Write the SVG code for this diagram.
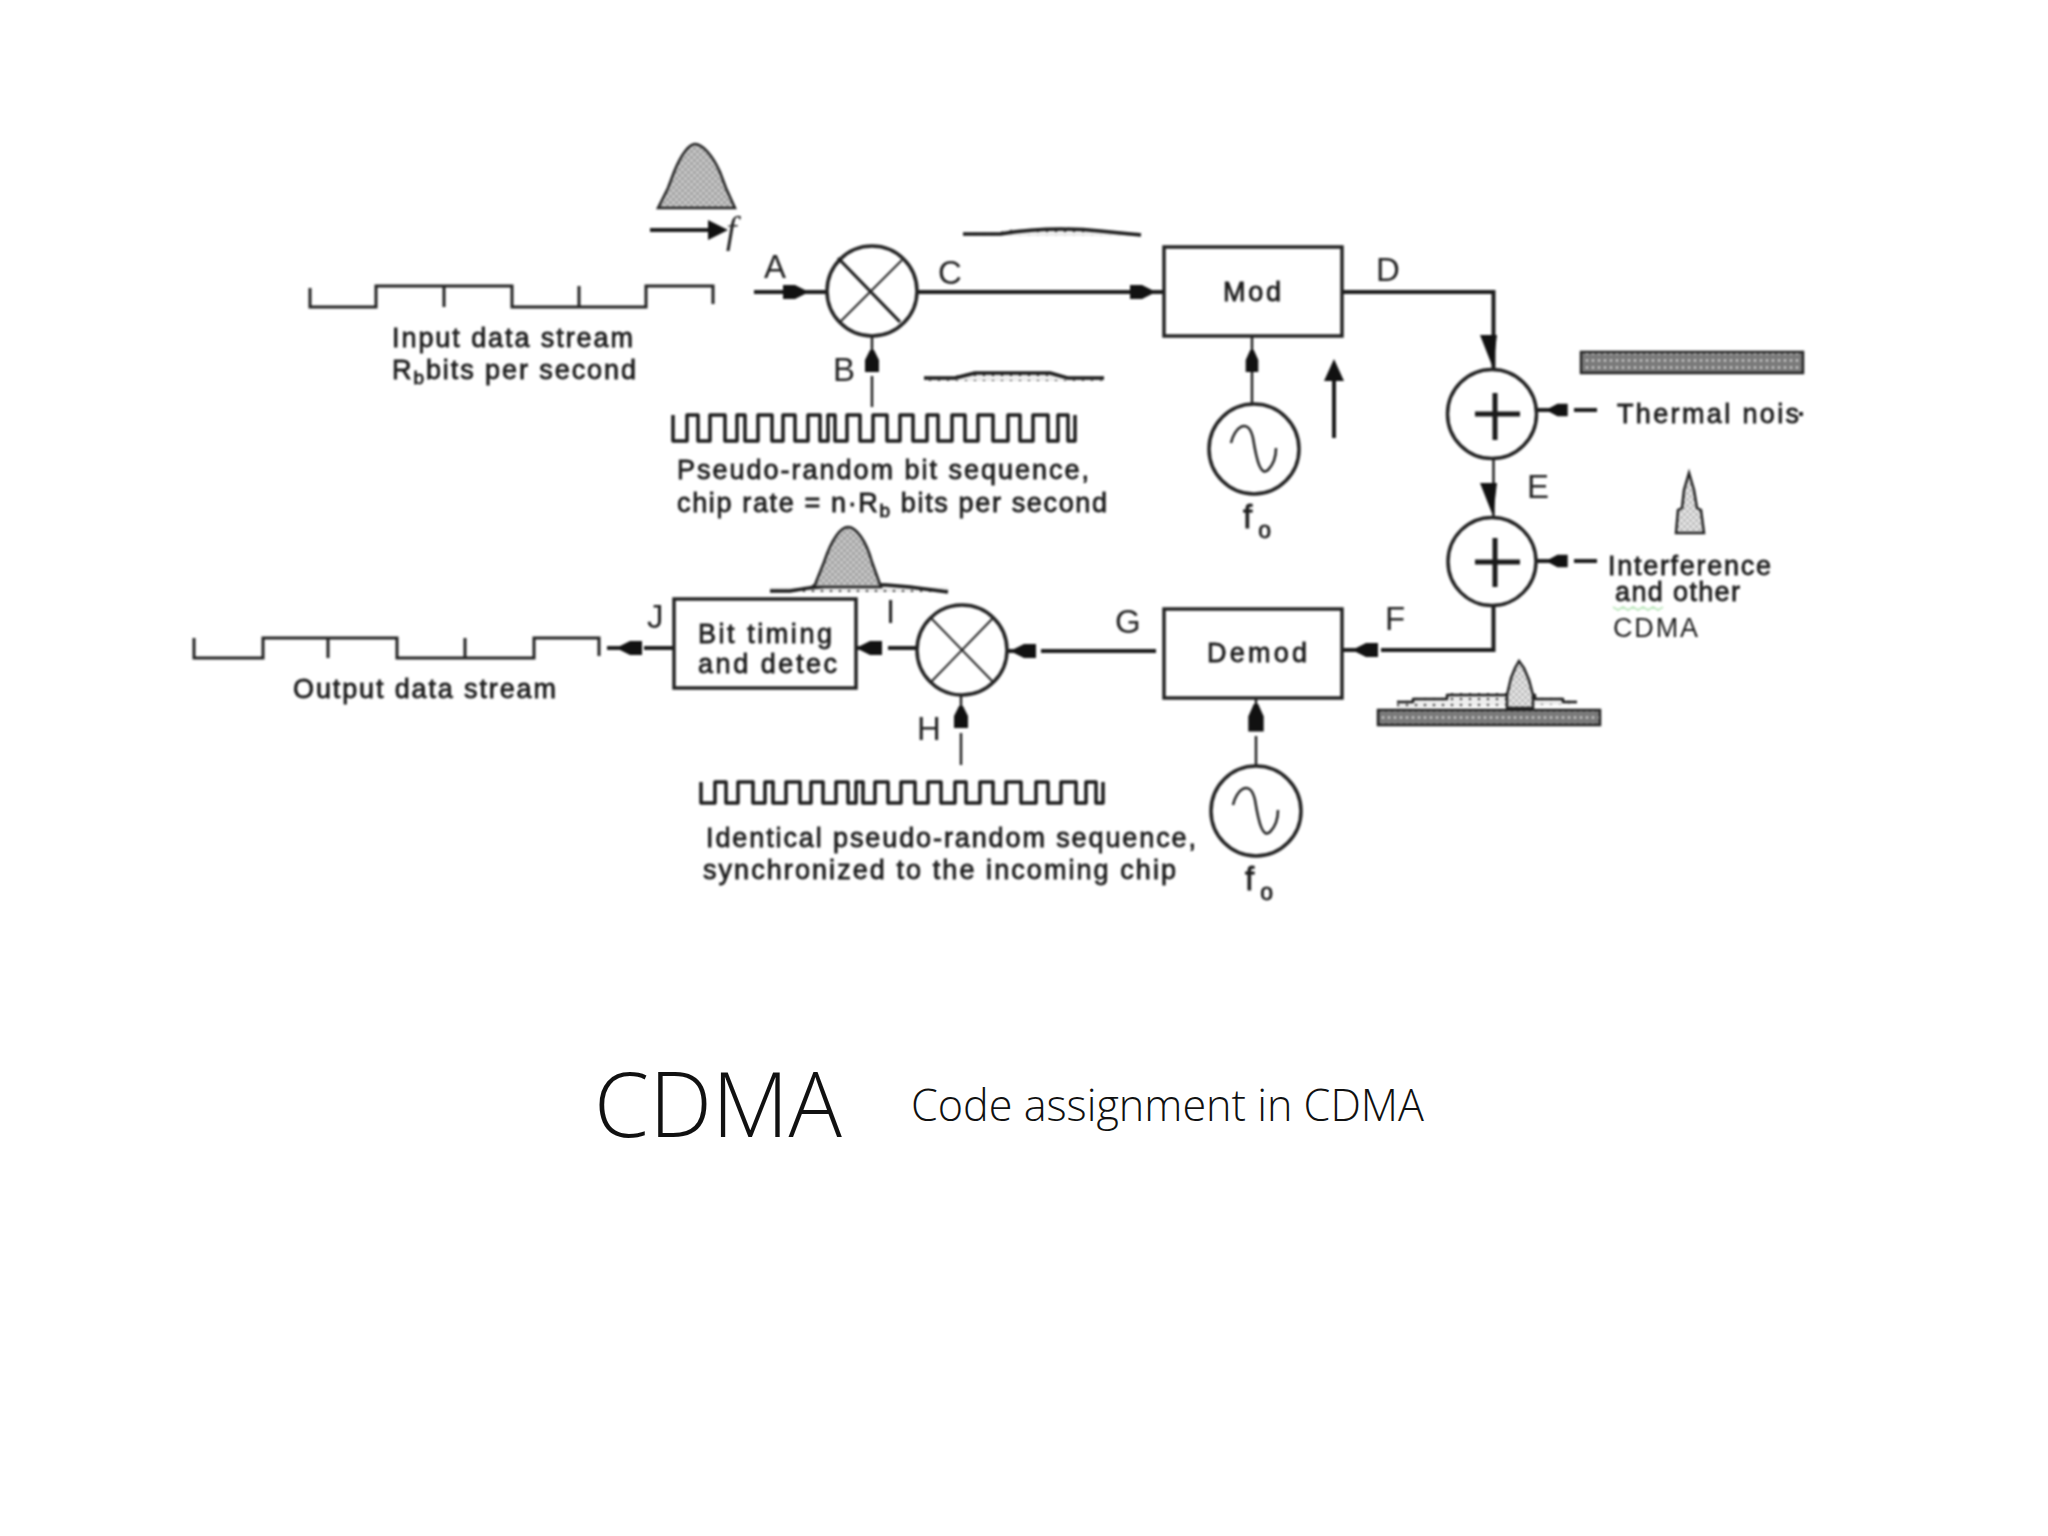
<svg xmlns="http://www.w3.org/2000/svg" width="2048" height="1536" viewBox="0 0 2048 1536">
<style>
.w{fill:none;stroke:#222;stroke-width:3;stroke-linejoin:miter}
.m{fill:none;stroke:#1c1c1c;stroke-width:4;stroke-linejoin:miter}
.q{fill:none;stroke:#1c1c1c;stroke-width:3.5;stroke-linejoin:round}
.t{fill:none;stroke:#222;stroke-width:2.5}
.k{fill:none;stroke:#1a1a1a;stroke-width:4}
.c{fill:#fff;stroke:#222;stroke-width:3.5}
.b{fill:#fff;stroke:#222;stroke-width:3.5}
.h{fill:#111;stroke:none}
.d{fill:url(#dots);stroke:#222;stroke-width:2.5}
.e{fill:url(#dots3);stroke:#222;stroke-width:2.5}
.n{fill:url(#dots2);stroke:none}
.bar{fill:url(#bars);stroke:#222;stroke-width:2.5}
.x{font-family:"Liberation Sans",Arial,sans-serif;font-size:27px;fill:#1c1c1c;stroke:#1c1c1c;stroke-width:.8}
.l{font-family:"Liberation Sans",Arial,sans-serif;font-size:33px;fill:#222}
.ti{font-family:"Open Sans","Noto Sans",sans-serif;font-weight:300;fill:#111}
</style>
<defs>
<pattern id="dots" width="6" height="6" patternUnits="userSpaceOnUse"><rect width="6" height="6" fill="#c4c4c4"/><circle cx="1.500" cy="1.500" r="1.100" fill="#777"/><circle cx="4.500" cy="4.500" r="1.100" fill="#777"/></pattern>
<pattern id="dots3" width="6" height="6" patternUnits="userSpaceOnUse"><rect width="6" height="6" fill="#e2e2e2"/><circle cx="1.500" cy="1.500" r="1" fill="#888"/><circle cx="4.500" cy="4.500" r="1" fill="#888"/></pattern>
<pattern id="dots2" width="9" height="6" patternUnits="userSpaceOnUse"><rect width="9" height="6" fill="#eee"/><circle cx="3" cy="3" r="1.300" fill="#444"/></pattern>
<pattern id="bars" width="6" height="7" patternUnits="userSpaceOnUse"><rect width="6" height="7" fill="#7a7a7a"/><circle cx="3" cy="3.500" r="1.300" fill="#d5d5d5"/></pattern>
<filter id="soft" x="-5%" y="-5%" width="110%" height="110%" color-interpolation-filters="sRGB"><feGaussianBlur stdDeviation="0.9"/></filter>
<path id="ah" d="M-22,-7 L-10,-7 L0,-2 L0,2 L-10,7 L-22,7Z"/>
<path id="sine" d="M-23,-6 C-20,-21 -6,-33 -1,-11 C3,14 7,27 14,21 C20,15 22,7 22,-1"/>
</defs>
<rect width="2048" height="1536" fill="#fff"/>
<g filter="url(#soft)">
<g id="connectors">
<path class="m" d="M754 292H826M918 292H1164"/>
<use href="#ah" class="h" transform="translate(805,292)"/>
<use href="#ah" class="h" transform="translate(1152,292)"/>
<path class="t" d="M872 336V352M872 376V407"/>
<use href="#ah" class="h" transform="translate(872,350) rotate(-90)"/>
<path class="t" d="M1252 336V404"/>
<use href="#ah" class="h" transform="translate(1252,350) rotate(-90) scale(1,.9)"/>
<path class="m" d="M1342 292H1493.500V370"/>
<polygon class="h" points="1480,335 1497,335 1493,368"/>
<path class="t" d="M1493.500 458V518"/>
<polygon class="h" points="1480,483 1497,483 1493,516"/>
<path class="m" d="M1537 410H1555M1574 410H1597"/>
<use href="#ah" class="h" transform="translate(1549,410) rotate(180) scale(.85,.9)"/>
<path class="m" d="M1537 561H1555M1574 561H1597"/>
<use href="#ah" class="h" transform="translate(1549,561) rotate(180) scale(.85,.9)"/>
<path class="m" d="M1493.500 605V650H1381M1362 650H1342"/>
<use href="#ah" class="h" transform="translate(1356,650) rotate(180)"/>
<path class="t" d="M1256 698V706M1256 736V767"/>
<use href="#ah" class="h" transform="translate(1256,704) rotate(-90) scale(1.250,1.100)"/>
<path class="m" d="M1156 651H1041M1015 651H1007"/>
<use href="#ah" class="h" transform="translate(1014,651) rotate(180)"/>
<path class="m" d="M917 648H888M865 648H856"/>
<use href="#ah" class="h" transform="translate(860,648) rotate(180)"/>
<path class="m" d="M674 648H644M625 648H607"/>
<use href="#ah" class="h" transform="translate(620,648) rotate(180)"/>
<path class="t" d="M961 695V710M961 733V765"/>
<use href="#ah" class="h" transform="translate(961,706) rotate(-90)"/>
</g>
<g id="input-wave">
<path class="w" d="M310 288V307H376V286H512V307H646V286H713V304M444 286V307M579 286V307"/>
<text class="x" x="392" y="347" textLength="241">Input data stream</text>
<text class="x" x="392" y="379" textLength="244">R<tspan dy="5" font-size="19">b</tspan><tspan dy="-5">bits per second</tspan></text>
</g>
<g id="spectrum-a">
<path class="d" d="M658 208L668 188L674 172C682 152 690 144 695 144C702 144 712 154 720 172L726 188L735 208Z"/>
<path class="m" d="M650 230H712"/>
<polygon class="h" points="708,220 728,230 708,240"/>
<text x="726" y="243" font-family="Liberation Serif,serif" font-style="italic" font-size="38" fill="#222">f</text>
</g>
<text class="l" id="label-a" x="764" y="278">A</text>
<g id="mixer-1">
<circle class="c" cx="872" cy="291" r="45"/>
<path class="m" style="stroke-width:3.200" d="M838 258L900 322"/>
<path class="t" style="stroke-width:2" d="M840 322L902 260"/>
</g>
<text class="l" id="label-c" x="938" y="284">C</text>
<g id="spectrum-c">
<path class="n" d="M963 235V232H1000L1010 229H1085L1095 232H1141V236H963Z"/>
<path class="q" d="M963 234H1000Q1050 226 1100 231L1141 235"/>
</g>
<text class="l" id="label-b" x="833" y="381">B</text>
<g id="spectrum-b">
<path class="n" d="M924 380V376H955L975 371H1050L1065 376H1104V381H924Z"/>
<path class="q" d="M924 378H955L975 373H1050L1068 378H1104"/>
</g>
<g id="chip-seq-1">
<path class="q" d="M673 415V441H687V415H698V441H710V415H725V441H737V415H745V441H758V415H772V441H783V415H795V441H808V415H820V441H828V415H835V441H847V415H860V441H873V415H887V441H900V415H913V441H927V415H938V441H952V415H965V441H978V415H993V441H1008V415H1020V441H1033V415H1048V441H1058V415H1068V441H1075V415"/>
<text class="x" x="677" y="479" textLength="412">Pseudo-random bit sequence,</text>
<text class="x" x="677" y="512" textLength="430">chip rate = n·R<tspan dy="5" font-size="19">b</tspan><tspan dy="-5"> bits per second</tspan></text>
</g>
<g id="mod">
<rect class="b" x="1164" y="247" width="178" height="89"/>
<text class="x" x="1223" y="301" textLength="58">Mod</text>
</g>
<text class="l" id="label-d" x="1376" y="281">D</text>
<g id="osc-1">
<circle class="c" cx="1254" cy="449" r="45"/>
<use href="#sine" class="t" transform="translate(1254,449)"/>
<text class="x" x="1243" y="528" style="font-size:33px">f<tspan dx="6" dy="10" style="font-size:23px">o</tspan></text>
</g>
<g id="up-arrow">
<path class="k" d="M1334 378V438"/>
<polygon class="h" points="1334,359 1344,381 1324,381"/>
</g>
<g id="adder-1">
<circle class="c" cx="1492" cy="414" r="44.500"/>
<path class="k" style="stroke-width:5" d="M1475 414H1520M1495 393V440"/>
</g>
<text class="l" id="label-e" x="1527" y="498">E</text>
<g id="adder-2">
<circle class="c" cx="1492" cy="561.500" r="44"/>
<path class="k" style="stroke-width:5" d="M1475 562H1520M1495 538V587"/>
</g>
<g id="thermal">
<rect class="bar" x="1581" y="352" width="222" height="21"/>
<text class="x" x="1617" y="423" textLength="182">Thermal nois</text>
<rect x="1799" y="412" width="4" height="4" fill="#222"/>
</g>
<g id="interference">
<path class="e" d="M1676 533L1678 510L1682 508L1684 490L1689 473L1694 490L1697 508L1701 510L1704 533Z"/>
<text class="x" x="1608" y="575" textLength="163">Interference</text>
<text class="x" x="1615" y="601" textLength="125">and other</text>
<path fill="none" stroke="#bfe8c0" stroke-width="2" d="M1613 607l5 3 5-3 5 3 5-3 5 3 5-3 5 3 5-3 5 3 5-3"/>
<text class="x" x="1613" y="637" textLength="85" style="stroke-width:0">CDMA</text>
</g>
<text class="l" id="label-f" x="1385" y="630">F</text>
<g id="demod">
<rect class="b" x="1164" y="609" width="178" height="89"/>
<text class="x" x="1207" y="662" textLength="100">Demod</text>
</g>
<g id="spectrum-f">
<path class="n" d="M1397 703V700H1413V697H1447V693H1535V697H1563V700H1577V704L1397 708Z"/>
<path class="q" style="stroke-width:2.500" d="M1397 702H1413V699H1447V695H1535V699H1563V702H1577"/>
<path class="e" d="M1507 695L1511 678L1515 668L1519 661L1524 668L1529 680L1533 695V708H1507Z"/>
<rect class="bar" x="1378" y="710" width="222" height="15"/>
</g>
<g id="osc-2">
<circle class="c" cx="1256" cy="811" r="45"/>
<use href="#sine" class="t" transform="translate(1256,811)"/>
<text class="x" x="1245" y="890" style="font-size:33px">f<tspan dx="6" dy="10" style="font-size:23px">o</tspan></text>
</g>
<text class="l" id="label-g" x="1115" y="633">G</text>
<g id="mixer-2">
<circle class="c" cx="962" cy="650" r="45"/>
<path class="t" style="stroke-width:2" d="M930 617L994 683"/>
<path class="t" style="stroke-width:2" d="M930 683L994 617"/>
</g>
<text class="l" id="label-i" x="886" y="623">I</text>
<g id="spectrum-i">
<path class="n" d="M770 593V587H800L815 584H890L905 587H948V592H770Z"/>
<path class="q" d="M770 591H790Q850 580 910 587L948 592"/>
<path class="d" d="M814 587L824 562C832 538 841 527 848 527C856 527 866 540 872 562L881 587Z"/>
</g>
<g id="bit-timing">
<rect class="b" x="674" y="599" width="182" height="89"/>
<text class="x" x="698" y="643" textLength="134">Bit timing</text>
<text class="x" x="698" y="673" textLength="139">and detec</text>
</g>
<text class="l" id="label-j" x="647" y="628">J</text>
<g id="output-wave">
<path class="w" d="M194 638V658H263V638H397V658H534V638H599V656M328 638V658M465 638V658"/>
<text class="x" x="293" y="698" textLength="263">Output data stream</text>
</g>
<text class="l" id="label-h" x="917" y="740">H</text>
<g id="chip-seq-2">
<path class="q" d="M701 782V803H715V782H726V803H738V782H753V803H765V782H773V803H786V782H800V803H811V782H823V803H836V782H848V803H856V782H863V803H875V782H888V803H901V782H915V803H928V782H941V803H955V782H966V803H980V782H993V803H1006V782H1021V803H1036V782H1048V803H1061V782H1076V803H1086V782H1096V803H1103V782"/>
<text class="x" x="706" y="847" textLength="490">Identical pseudo-random sequence,</text>
<text class="x" x="703" y="879" textLength="473">synchronized to the incoming chip</text>
</g>
</g>
<text class="ti" id="title" x="594" y="1137" font-size="90" textLength="248" lengthAdjust="spacingAndGlyphs">CDMA</text>
<text class="ti" id="caption" x="911" y="1121" font-size="44" textLength="513" lengthAdjust="spacingAndGlyphs">Code assignment in CDMA</text>
</svg>
